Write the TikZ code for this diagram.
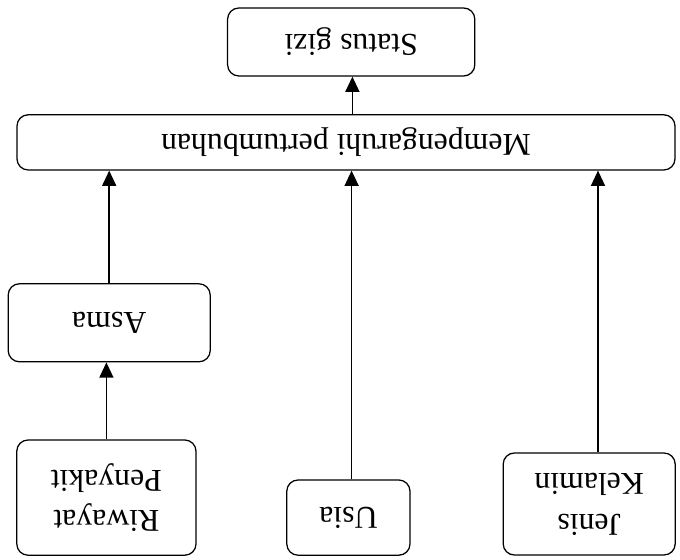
\documentclass[tikz,border=0pt]{standalone}
\usepackage{fontspec}
\setmainfont{Liberation Serif}
\usetikzlibrary{arrows.meta}
\usetikzlibrary{positioning,calc}

\begin{document}
\begin{tikzpicture}[
      box/.style={draw, rounded corners=0.28cm, line width=0.9pt, align=center,
                  rotate=180, inner sep=0pt,
                  font=\fontsize{22.6}{29}\selectfont},
      arr/.style={line width=1pt, -{Triangle[length=3.8mm,width=3.5mm]}}
   ]
   \useasboundingbox (0,0) rectangle (17,14);

   % boxes (whole figure is upside down, so anchors are flipped too)
   \node[box, minimum width=6.18cm, minimum height=1.7cm]   (status) at (8.78,12.95) {Status gizi};
   \node[box, minimum width=16.45cm, minimum height=1.38cm] (memp)   at (8.65,10.44) {Mempengaruhi pertumbuhan};
   \node[box, minimum width=5.05cm, minimum height=1.95cm]  (asma)   at (2.73,5.93)  {Asma};
   \node[box, minimum width=4.48cm, minimum height=2.88cm]  (riwayat) at (2.66,1.56) {Riwayat\\Penyakit};
   \node[box, minimum width=3.08cm, minimum height=1.88cm]  (usia)   at (8.71,1.06)  {Usia};
   \node[box, minimum width=4.3cm, minimum height=2.55cm]   (jenis)  at (14.73,1.4)  {Jenis\\Kelamin};

   % connectors
   \draw[arr] (riwayat.south) -- (riwayat.south |- asma.north);
   \draw[arr] (asma.south) -- (asma.south |- memp.north);
   \draw[arr] ([xshift=0.08cm]usia.south) -- ([xshift=0.08cm]usia.south |- memp.north);
   \draw[arr] ([xshift=0.22cm]jenis.south) -- ([xshift=0.22cm]jenis.south |- memp.north);
   \draw[arr] ([xshift=0.03cm]memp.south -| status.center) -- ([xshift=0.03cm]status.north);
\end{tikzpicture}
\end{document}
